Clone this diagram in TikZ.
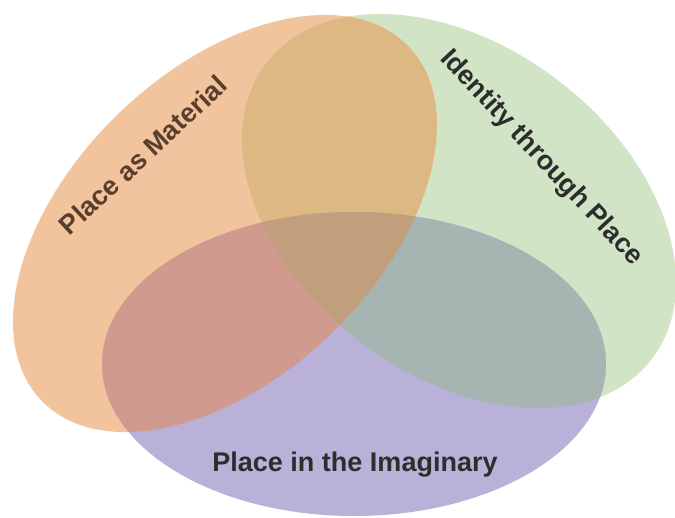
\documentclass[tikz,border=0pt]{standalone}
\usepackage{fontspec}
\setmainfont{Liberation Sans}
\definecolor{cOr}{HTML}{F2C49D}
\definecolor{cGr}{HTML}{D1E5C6}
\definecolor{cPu}{HTML}{B9B1D7}
\definecolor{cOG}{HTML}{DDB883}
\definecolor{cOP}{HTML}{D09A8E}
\definecolor{cGP}{HTML}{A6B5B2}
\definecolor{cOGP}{HTML}{C29F7C}
\definecolor{txtBrown}{HTML}{5A3E2D}
\definecolor{txtDark}{HTML}{2D2D2D}
\tikzset{
  orangeE/.style={rotate around={44:(225,223.5)}},
  greenE/.style={rotate around={-37.5:(459,211)}},
  lbl/.style={font=\bfseries\fontsize{27}{27}\selectfont, inner sep=0pt},
}
\newcommand{\OrangePath}{(225,223.5) ellipse [x radius=255, y radius=153]}
\newcommand{\GreenPath}{(459,211) ellipse [x radius=243, y radius=164]}
\newcommand{\PurplePath}{(354,364) ellipse [x radius=252, y radius=152]}
\begin{document}
\begin{tikzpicture}[x=1pt,y=-1pt]
\fill[white] (0,0) rectangle (675,517);
\useasboundingbox (0,0) rectangle (675,517);
% base fills
\fill[cOr, orangeE] \OrangePath;
\fill[cGr, greenE] \GreenPath;
\fill[cPu] \PurplePath;
% orange overlaps
\begin{scope}
  \clip[orangeE] \OrangePath;
  \fill[cOG, greenE] \GreenPath;
  \fill[cOP] \PurplePath;
\end{scope}
% green-purple overlap
\begin{scope}
  \clip[greenE] \GreenPath;
  \fill[cGP] \PurplePath;
\end{scope}
% triple overlap
\begin{scope}
  \clip[orangeE] \OrangePath;
  \clip[greenE] \GreenPath;
  \fill[cOGP] \PurplePath;
\end{scope}
% labels
\node[lbl, text=txtBrown, rotate=43] (mat) at (143,155) {Place as Material};
\node[lbl, text=txtDark, rotate=-47] (ident) at (541,158) {Identity through Place};
\node[lbl, text=txtDark, anchor=base] (imag) at (355,471) {Place in the Imaginary};
\end{tikzpicture}
\end{document}
